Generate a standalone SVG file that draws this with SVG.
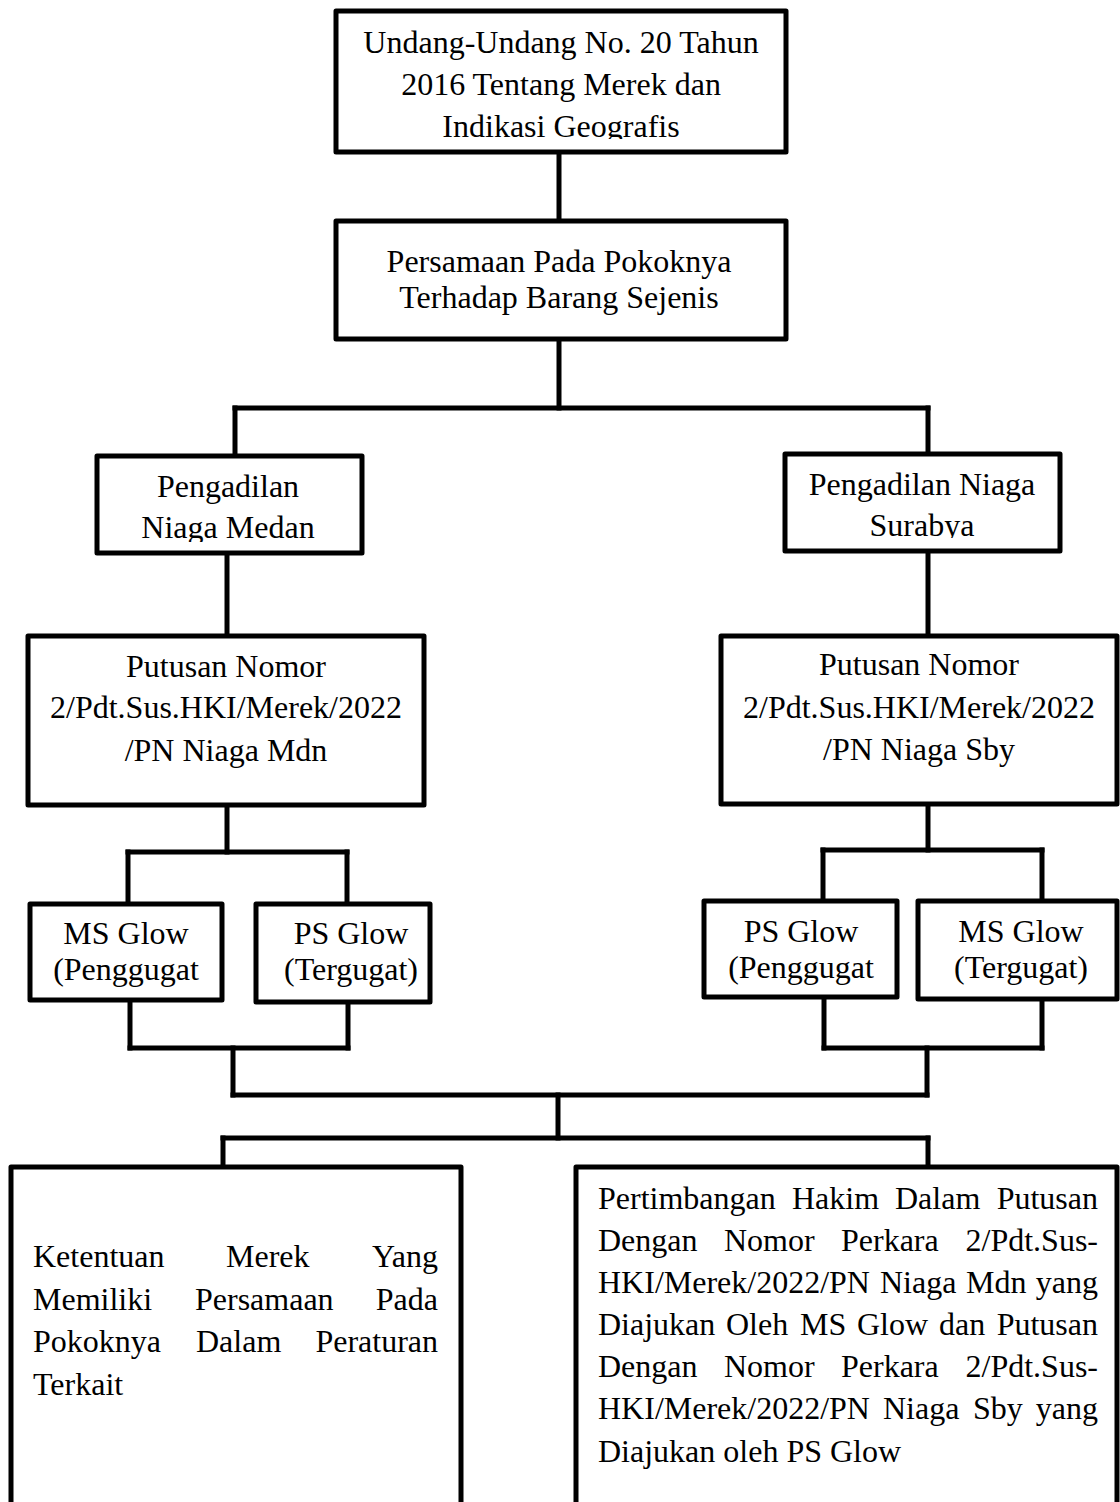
<svg xmlns="http://www.w3.org/2000/svg" width="1120" height="1502" viewBox="0 0 1120 1502">
<style>
.box{fill:#fff;stroke:#000;stroke-width:5;stroke-linejoin:round}
.ln{stroke:#000;stroke-width:5;fill:none;stroke-linecap:square}
text{font-family:"Liberation Serif","Times New Roman",serif;font-size:32px;fill:#000}
.c{text-anchor:middle}
.e{text-anchor:end}
</style>
<defs>
<clipPath id="cp1"><rect x="336" y="11" width="450" height="128"/></clipPath>
<clipPath id="cp3"><rect x="97" y="456" width="265" height="86"/></clipPath>
<clipPath id="cp4"><rect x="785" y="454" width="275" height="84"/></clipPath>
</defs>
<rect width="1120" height="1502" fill="#fff"/>
<g id="connectors">
<line class="ln" x1="559" y1="152" x2="559" y2="221"/>
<line class="ln" x1="559" y1="339" x2="559" y2="408"/>
<line class="ln" x1="235" y1="408" x2="928" y2="408"/>
<line class="ln" x1="235" y1="408" x2="235" y2="456"/>
<line class="ln" x1="928" y1="408" x2="928" y2="454"/>
<line class="ln" x1="227" y1="553" x2="227" y2="636"/>
<line class="ln" x1="928" y1="551" x2="928" y2="636"/>
<line class="ln" x1="227" y1="805" x2="227" y2="852"/>
<line class="ln" x1="128" y1="852" x2="347" y2="852"/>
<line class="ln" x1="128" y1="852" x2="128" y2="904"/>
<line class="ln" x1="347" y1="852" x2="347" y2="904"/>
<line class="ln" x1="928" y1="804" x2="928" y2="850"/>
<line class="ln" x1="823" y1="850" x2="1042" y2="850"/>
<line class="ln" x1="823" y1="850" x2="823" y2="901"/>
<line class="ln" x1="1042" y1="850" x2="1042" y2="901"/>
<line class="ln" x1="130" y1="1000" x2="130" y2="1048"/>
<line class="ln" x1="348" y1="1002" x2="348" y2="1048"/>
<line class="ln" x1="130" y1="1048" x2="348" y2="1048"/>
<line class="ln" x1="233" y1="1048" x2="233" y2="1095"/>
<line class="ln" x1="824" y1="997" x2="824" y2="1048"/>
<line class="ln" x1="1042" y1="999" x2="1042" y2="1048"/>
<line class="ln" x1="824" y1="1048" x2="1042" y2="1048"/>
<line class="ln" x1="927" y1="1048" x2="927" y2="1095"/>
<line class="ln" x1="233" y1="1095" x2="927" y2="1095"/>
<line class="ln" x1="558" y1="1095" x2="558" y2="1138"/>
<line class="ln" x1="223" y1="1138" x2="928" y2="1138"/>
<line class="ln" x1="223" y1="1138" x2="223" y2="1167"/>
<line class="ln" x1="928" y1="1138" x2="928" y2="1167"/>
</g>
<g id="n-uu">
<rect class="box" x="336" y="11" width="450" height="141"/>
<g clip-path="url(#cp1)">
<text class="c" x="561" y="53">Undang-Undang No. 20 Tahun</text>
<text class="c" x="561" y="95">2016 Tentang Merek dan</text>
<text class="c" x="561" y="137">Indikasi Geografis</text>
</g>
</g>
<g id="n-persamaan">
<rect class="box" x="336" y="221" width="450" height="118"/>
<text class="c" x="559" y="272">Persamaan Pada Pokoknya</text>
<text class="c" x="559" y="308">Terhadap Barang Sejenis</text>
</g>
<g id="n-medan">
<rect class="box" x="97" y="456" width="265" height="97"/>
<g clip-path="url(#cp3)">
<text class="c" x="228" y="497">Pengadilan</text>
<text class="c" x="228" y="538">Niaga Medan</text>
</g>
</g>
<g id="n-surabya">
<rect class="box" x="785" y="454" width="275" height="97"/>
<g clip-path="url(#cp4)">
<text class="c" x="922" y="495">Pengadilan Niaga</text>
<text class="c" x="922" y="536">Surabya</text>
</g>
</g>
<g id="n-putusan-mdn">
<rect class="box" x="28" y="636" width="396" height="169"/>
<text class="c" x="226" y="677">Putusan Nomor</text>
<text class="c" x="226" y="718">2/Pdt.Sus.HKI/Merek/2022</text>
<text class="c" x="226" y="761">/PN Niaga Mdn</text>
</g>
<g id="n-putusan-sby">
<rect class="box" x="721" y="636" width="396" height="168"/>
<text class="c" x="919" y="675">Putusan Nomor</text>
<text class="c" x="919" y="718">2/Pdt.Sus.HKI/Merek/2022</text>
<text class="c" x="919" y="760">/PN Niaga Sby</text>
</g>
<g id="n-ms-penggugat">
<rect class="box" x="30" y="904" width="192" height="96"/>
<text class="c" x="126" y="944">MS Glow</text>
<text class="c" x="126" y="980">(Penggugat</text>
</g>
<g id="n-ps-tergugat">
<rect class="box" x="256" y="904" width="174" height="98"/>
<text class="c" x="351" y="944">PS Glow</text>
<text class="c" x="351" y="980">(Tergugat)</text>
</g>
<g id="n-ps-penggugat">
<rect class="box" x="704" y="901" width="193" height="96"/>
<text class="c" x="801" y="942">PS Glow</text>
<text class="c" x="801" y="978">(Penggugat</text>
</g>
<g id="n-ms-tergugat">
<rect class="box" x="918" y="901" width="199" height="98"/>
<text class="c" x="1021" y="942">MS Glow</text>
<text class="c" x="1021" y="978">(Tergugat)</text>
</g>
<g id="n-ketentuan">
<rect class="box" x="11" y="1167" width="450" height="400"/>
<text x="33" y="1267">Ketentuan</text>
<text x="226" y="1267">Merek</text>
<text class="e" x="438" y="1267">Yang</text>
<text x="33" y="1310">Memiliki</text>
<text x="195" y="1310">Persamaan</text>
<text class="e" x="438" y="1310">Pada</text>
<text x="33" y="1352">Pokoknya</text>
<text x="196" y="1352">Dalam</text>
<text class="e" x="438" y="1352">Peraturan</text>
<text x="33" y="1395">Terkait</text>
</g>
<g id="n-pertimbangan">
<rect class="box" x="576" y="1167" width="541" height="400"/>
<text x="598" y="1209">Pertimbangan</text>
<text x="792" y="1209">Hakim</text>
<text x="895" y="1209">Dalam</text>
<text class="e" x="1098" y="1209">Putusan</text>
<text x="598" y="1251">Dengan</text>
<text x="724" y="1251">Nomor</text>
<text x="841" y="1251">Perkara</text>
<text class="e" x="1098" y="1251">2/Pdt.Sus-</text>
<text x="598" y="1293">HKI/Merek/2022/PN</text>
<text x="880" y="1293">Niaga</text>
<text x="966" y="1293">Mdn</text>
<text class="e" x="1098" y="1293">yang</text>
<text x="598" y="1335">Diajukan</text>
<text x="726" y="1335">Oleh</text>
<text x="800" y="1335">MS</text>
<text x="857" y="1335">Glow</text>
<text x="939" y="1335">dan</text>
<text class="e" x="1098" y="1335">Putusan</text>
<text x="598" y="1377">Dengan</text>
<text x="724" y="1377">Nomor</text>
<text x="841" y="1377">Perkara</text>
<text class="e" x="1098" y="1377">2/Pdt.Sus-</text>
<text x="598" y="1419">HKI/Merek/2022/PN</text>
<text x="883" y="1419">Niaga</text>
<text x="973" y="1419">Sby</text>
<text class="e" x="1098" y="1419">yang</text>
<text x="598" y="1462">Diajukan oleh PS Glow</text>
</g>
</svg>
